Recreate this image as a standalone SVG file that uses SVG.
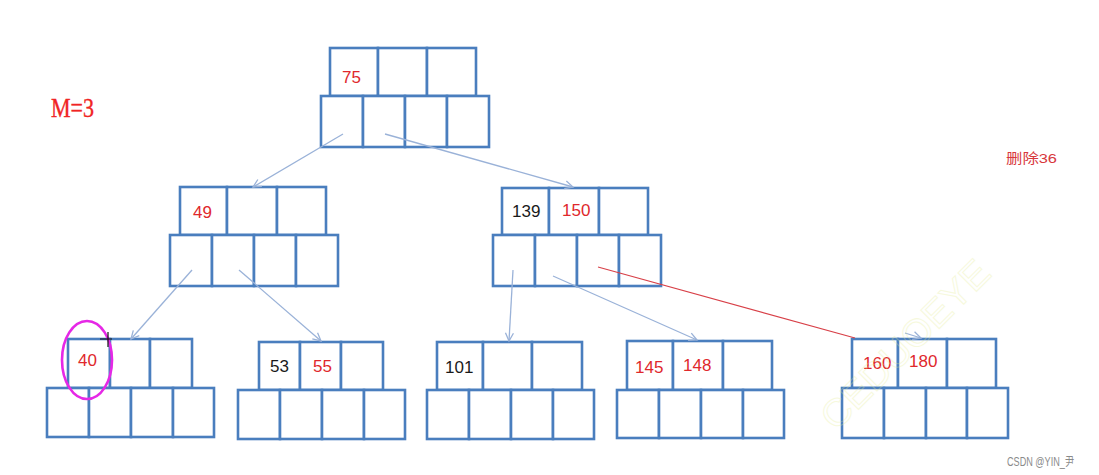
<svg xmlns="http://www.w3.org/2000/svg" width="1099" height="475" viewBox="0 0 1099 475">
<defs>
<style>
.c{fill:#ffffff;stroke:#4a7ebe;stroke-width:2.6}
.t{font-family:"Liberation Sans",Arial,sans-serif;font-size:17px}
.r{fill:#e0282c}
.k{fill:#1a1a1a}
.ln{stroke:#9ab2d8;stroke-width:1.3;fill:none}
</style>
<marker id="ah" markerUnits="userSpaceOnUse" markerWidth="12" markerHeight="12" refX="9" refY="5" orient="auto">
<path d="M1,1 L9,5 L1,9" fill="none" stroke="#9ab2d8" stroke-width="1.3"/>
</marker>
</defs>
<rect width="1099" height="475" fill="#ffffff"/>
<g id="root">
<rect class="c" x="330" y="48" width="48" height="48"/>
<rect class="c" x="378" y="48" width="49" height="48"/>
<rect class="c" x="427" y="48" width="49" height="48"/>
<rect class="c" x="321" y="96" width="42" height="51"/>
<rect class="c" x="363" y="96" width="42" height="51"/>
<rect class="c" x="405" y="96" width="42" height="51"/>
<rect class="c" x="447" y="96" width="42" height="51"/>
<text class="t r" x="342" y="83">75</text>
</g>
<g id="n49">
<rect class="c" x="180" y="187" width="47" height="48"/>
<rect class="c" x="227" y="187" width="50" height="48"/>
<rect class="c" x="277" y="187" width="49" height="48"/>
<rect class="c" x="170" y="235" width="42" height="51"/>
<rect class="c" x="212" y="235" width="42" height="51"/>
<rect class="c" x="254" y="235" width="42" height="51"/>
<rect class="c" x="296" y="235" width="42" height="51"/>
<text class="t r" x="193" y="218">49</text>
</g>
<g id="n139">
<rect class="c" x="502" y="188" width="47" height="47"/>
<rect class="c" x="549" y="188" width="50" height="47"/>
<rect class="c" x="599" y="188" width="49" height="47"/>
<rect class="c" x="493" y="235" width="42" height="51"/>
<rect class="c" x="535" y="235" width="42" height="51"/>
<rect class="c" x="577" y="235" width="42" height="51"/>
<rect class="c" x="619" y="235" width="42" height="51"/>
<text class="t k" x="512" y="217">139</text>
<text class="t r" x="562" y="216">150</text>
</g>
<g id="n40">
<rect class="c" x="68" y="339" width="42" height="49"/>
<rect class="c" x="110" y="339" width="40" height="49"/>
<rect class="c" x="150" y="339" width="42" height="49"/>
<rect class="c" x="47" y="388" width="42" height="49"/>
<rect class="c" x="89" y="388" width="42" height="49"/>
<rect class="c" x="131" y="388" width="42" height="49"/>
<rect class="c" x="173" y="388" width="41" height="49"/>
<text class="t r" x="78" y="366">40</text>
</g>
<g id="n53">
<rect class="c" x="259" y="342" width="41" height="48"/>
<rect class="c" x="300" y="342" width="41" height="48"/>
<rect class="c" x="341" y="342" width="42" height="48"/>
<rect class="c" x="238" y="390" width="42" height="49"/>
<rect class="c" x="280" y="390" width="42" height="49"/>
<rect class="c" x="322" y="390" width="42" height="49"/>
<rect class="c" x="364" y="390" width="41" height="49"/>
<text class="t k" x="270" y="372">53</text>
<text class="t r" x="313" y="372">55</text>
</g>
<g id="n101">
<rect class="c" x="437" y="342" width="46" height="48"/>
<rect class="c" x="483" y="342" width="49" height="48"/>
<rect class="c" x="532" y="342" width="50" height="48"/>
<rect class="c" x="427" y="390" width="42" height="49"/>
<rect class="c" x="469" y="390" width="42" height="49"/>
<rect class="c" x="511" y="390" width="42" height="49"/>
<rect class="c" x="553" y="390" width="41" height="49"/>
<text class="t k" x="445" y="373">101</text>
</g>
<g id="n145">
<rect class="c" x="627" y="341" width="46" height="49"/>
<rect class="c" x="673" y="341" width="50" height="49"/>
<rect class="c" x="723" y="341" width="49" height="49"/>
<rect class="c" x="617" y="390" width="42" height="48"/>
<rect class="c" x="659" y="390" width="42" height="48"/>
<rect class="c" x="701" y="390" width="42" height="48"/>
<rect class="c" x="743" y="390" width="41" height="48"/>
<text class="t r" x="635" y="373">145</text>
<text class="t r" x="683" y="371">148</text>
</g>
<g id="n160">
<rect class="c" x="852" y="339" width="46" height="49"/>
<rect class="c" x="898" y="339" width="49" height="49"/>
<rect class="c" x="947" y="339" width="49" height="49"/>
<rect class="c" x="842" y="388" width="42" height="50"/>
<rect class="c" x="884" y="388" width="42" height="50"/>
<rect class="c" x="926" y="388" width="41" height="50"/>
<rect class="c" x="967" y="388" width="41" height="50"/>
<text class="t r" x="863" y="369">160</text>
<text class="t r" x="909" y="367">180</text>
</g>
<g id="connectors">
<line class="ln" x1="343" y1="134" x2="253" y2="187" marker-end="url(#ah)"/>
<line class="ln" x1="385" y1="134" x2="573" y2="187" marker-end="url(#ah)"/>
<line class="ln" x1="192" y1="270" x2="131" y2="339" marker-end="url(#ah)"/>
<line class="ln" x1="239" y1="270" x2="321" y2="341" marker-end="url(#ah)"/>
<line class="ln" x1="513" y1="270" x2="509" y2="341" marker-end="url(#ah)"/>
<line class="ln" x1="553" y1="276" x2="697" y2="340" marker-end="url(#ah)"/>
<line class="ln" x1="905" y1="333" x2="921" y2="338" marker-end="url(#ah)"/>
<line x1="598" y1="267" x2="855" y2="338" stroke="#d84048" stroke-width="1.1"/>
</g>
<g id="highlight">
<ellipse cx="87" cy="360" rx="25" ry="39" fill="none" stroke="#e628e6" stroke-width="2.6"/>
<path d="M100,339 H112 M108,332 V347" stroke="#111" stroke-width="1.2" fill="none"/>
</g>
<g id="watermark" opacity="0.3">
<text x="0" y="0" transform="translate(836,432) rotate(-45)" font-family="Liberation Sans,Arial,sans-serif" font-size="38" fill="none" stroke="#e4ec90" stroke-width="1" textLength="222" lengthAdjust="spacingAndGlyphs">CEDUOEYE</text>
</g>
<g id="labels">
<text x="51" y="117" font-family="Liberation Serif,Times New Roman,serif" font-size="28" fill="#f02424" stroke="#f02424" stroke-width="0.4" textLength="43" lengthAdjust="spacingAndGlyphs">M=3</text>
<text x="1006" y="163" font-family="Liberation Sans,Noto Sans CJK SC,sans-serif" font-size="13.5" fill="#d8383c" textLength="51" lengthAdjust="spacingAndGlyphs">删除36</text>
<text x="1007" y="466" font-family="Liberation Sans,Noto Sans CJK SC,sans-serif" font-size="12" fill="#8a8a8a" textLength="67" lengthAdjust="spacingAndGlyphs">CSDN @YIN_尹</text>
</g>
</svg>
